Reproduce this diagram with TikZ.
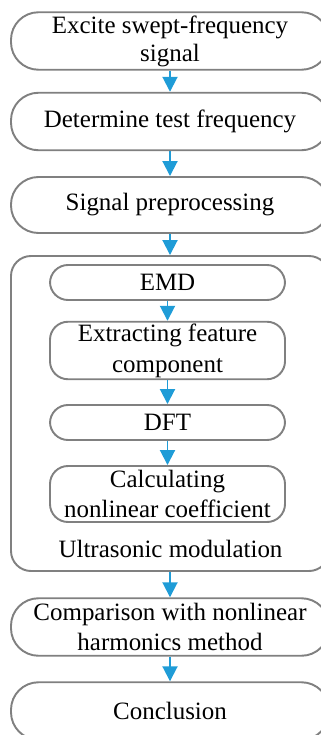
\documentclass[tikz,border=0pt]{standalone}
\usepackage{fontspec}
\setmainfont{Liberation Serif}
\usetikzlibrary{arrows.meta}
\definecolor{boxgray}{RGB}{128,128,128}
\definecolor{flowblue}{RGB}{31,156,215}
\tikzset{
  stepbox/.style={draw=boxgray, line width=1.1pt, rounded corners=0.55cm,
    minimum width=6.36cm, minimum height=1.15cm, inner sep=0pt, align=center,
    font=\fontsize{14.2}{17.5}\selectfont},
  substep/.style={stepbox, minimum width=4.7cm, rounded corners=0.36cm},
  flow/.style={flowblue, line width=1.1pt, -{Triangle[width=0.3cm,length=0.3cm]}}
}
\begin{document}
\begin{tikzpicture}
\useasboundingbox (0,0) rectangle (6.42,-14.7);
% main steps
\node[stepbox] (excite) at (3.40,-0.82) {\raisebox{-2pt}{\shortstack{Excite swept-frequency\\signal}}};
\node[stepbox] (testfreq) at (3.40,-2.43) {Determine test frequency};
\node[stepbox, minimum height=1.12cm] (preproc) at (3.40,-4.10) {Signal preprocessing};
% modulation block
\node[stepbox, minimum height=6.30cm, rounded corners=0.4cm] (modblock) at (3.40,-8.27) {};
\node[substep, minimum height=0.70cm] (emd) at (3.35,-5.65) {EMD};
\node[substep] (extract) at (3.35,-7.01) {Extracting feature\\component};
\node[substep, minimum height=0.70cm] (dft) at (3.35,-8.45) {DFT};
\node[substep, minimum height=1.12cm] (coeff) at (3.35,-9.88) {Calculating\\nonlinear coefficient};
\node[font=\fontsize{14.2}{17}\selectfont] (modlabel) at (3.41,-10.98) {Ultrasonic modulation};
\node[stepbox] (compare) at (3.40,-12.54) {Comparison with nonlinear\\harmonics method};
\node[stepbox] (concl) at (3.40,-14.22) {Conclusion};
% arrows
\draw[flow] (excite) -- (testfreq);
\draw[flow] (testfreq) -- (preproc);
\draw[flow] (preproc) -- (modblock);
\draw[flow] (emd) -- (extract);
\draw[flow] (extract) -- (dft);
\draw[flow] (dft) -- (coeff);
\draw[flow] (modblock) -- (compare);
\draw[flow] (compare) -- (concl);
\end{tikzpicture}
\end{document}
